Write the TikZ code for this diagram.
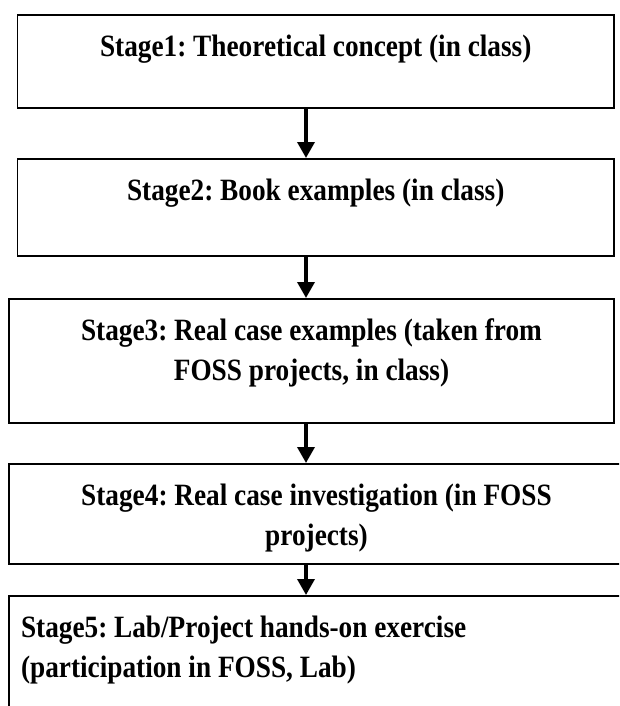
\documentclass[tikz,border=0pt]{standalone}
\usepackage{fontspec}
\setmainfont{Liberation Serif}[FakeStretch=0.88]
\usetikzlibrary{arrows.meta}

\tikzset{
  stagebox/.style={rectangle, draw, line width=1.8pt, anchor=north, inner sep=0pt,
    text height=42pt, font=\fontsize{31}{40}\selectfont\bfseries\frenchspacing},
  flow/.style={-{Triangle[length=16pt,width=17pt]}, line width=3.5pt},
}

\begin{document}
\begin{tikzpicture}[x=1pt,y=-1pt]
  \useasboundingbox (0,0) rectangle (619,706);
  \clip (0,0) rectangle (619,706);

  \node (stage1) [stagebox, minimum width=596.5pt, text depth=51pt] at (315.75,14) {Stage1: Theoretical concept (in class)};

  \node (stage2) [stagebox, minimum width=596.5pt, text depth=55pt] at (315.75,158) {Stage2: Book examples (in class)};

  \node (stage3) [stagebox, minimum width=605pt, text width=560pt, align=flush center, text depth=82pt] at (311.5,298) {Stage3: Real case examples (taken from\\ FOSS projects, in class)};

  \node (stage4) [stagebox, minimum width=615pt, text width=560pt, align=flush center, text depth=58pt] at (316.5,463) {Stage4: Real case investigation (in FOSS\\ projects)};

  \node (stage5) [stagebox, inner xsep=12pt, text width=600pt, align=flush left, text depth=120pt] at (321,595) {Stage5: Lab/Project hands-on exercise\\ (participation in FOSS, Lab)};

  % arrows between the stages
  \coordinate (flowx) at (306,0);
  \draw [flow] (stage1.south -| flowx) -- (stage2.north -| flowx);
  \draw [flow] (stage2.south -| flowx) -- (stage3.north -| flowx);
  \draw [flow] (stage3.south -| flowx) -- (stage4.north -| flowx);
  \draw [flow] (stage4.south -| flowx) -- (stage5.north -| flowx);
\end{tikzpicture}
\end{document}
